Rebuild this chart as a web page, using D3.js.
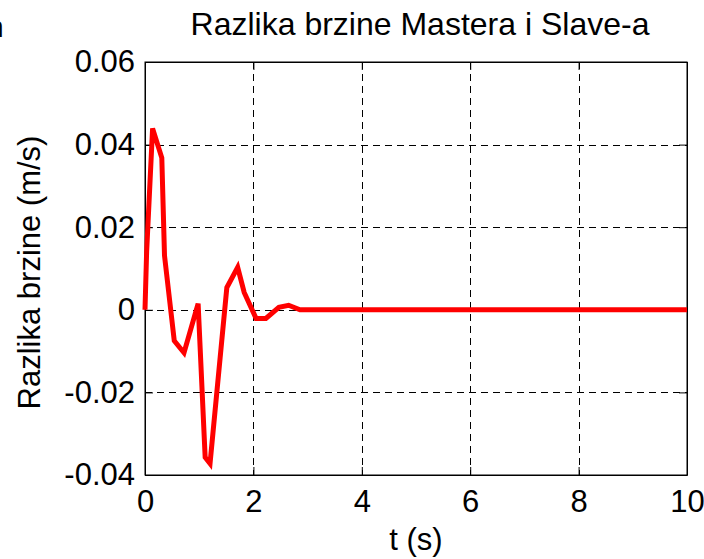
<!DOCTYPE html>
<html lang="en">
<head>
  <meta charset="UTF-8">
  <title>Razlika brzine Mastera i Slave-a</title>
  <style>
    body { margin: 0; background: #fff; }
    svg text { font-family: "Liberation Sans", Arial, Helvetica, sans-serif; fill: #000; }
  </style>
</head>
<body>
  <script src="https://d3js.org/d3.v7.min.js"></script>
  <script>
    const width = 704;
    const height = 559;
    const margin = { top: 62, right: 17, bottom: 84, left: 145 };
    const fontSize = 31;

    // time (s) and speed difference (m/s)
    const times = [0, 0.03, 0.14, 0.31, 0.36, 0.54, 0.72, 0.98, 1.11, 1.2, 1.51, 1.71, 1.83, 2.05, 2.23, 2.47, 2.65, 2.86, 10];
    const speedDiff = [0, 0.014, 0.0439, 0.0368, 0.0131, -0.0075, -0.0104, 0.0015, -0.0357, -0.0372, 0.0054, 0.0103, 0.0042, -0.0021, -0.0021, 0.0006, 0.0011, 0, 0];
    const xTicks = [0, 2, 4, 6, 8, 10];
    const yTicks = [-0.04, -0.02, 0, 0.02, 0.04, 0.06];
    const yTickLabels = ['-0.04', '-0.02', '0', '0.02', '0.04', '0.06'];

    const data = times.map((t, i) => ({ t: t, v: speedDiff[i] }));

    const innerW = width - margin.left - margin.right;
    const innerH = height - margin.top - margin.bottom;

    const x = d3.scaleLinear().domain([0, 10]).range([0, innerW]);
    const y = d3.scaleLinear().domain([-0.04, 0.06]).range([innerH, 0]);

    const svg = d3.select('body')
                  .append('svg')
                  .attr('width', width)
                  .attr('height', height);

    // clipped character at the left edge
    svg.append('text')
       .attr('x', -13)
       .attr('y', 37)
       .attr('font-size', 30)
       .text('n');

    const g = svg.append('g')
                 .attr('transform', 'translate(' + margin.left + ',' + margin.top + ')');

    // grid
    g.append('g')
     .selectAll('line')
     .data(xTicks.slice(1, -1))
     .enter()
     .append('line')
     .attr('x1', d => Math.round(x(d)) + 0.5)
     .attr('x2', d => Math.round(x(d)) + 0.5)
     .attr('y1', 0)
     .attr('y2', innerH)
     .attr('stroke', '#000')
     .attr('stroke-dasharray', '7,5');
    g.append('g')
     .selectAll('line')
     .data(yTicks.slice(1, -1))
     .enter()
     .append('line')
     .attr('x1', 0)
     .attr('x2', innerW)
     .attr('y1', d => Math.round(y(d)) + 0.5)
     .attr('y2', d => Math.round(y(d)) + 0.5)
     .attr('stroke', '#000')
     .attr('stroke-dasharray', '7,5');

    // axes
    const fmtY = d => yTickLabels[yTicks.indexOf(d)];
    g.append('g')
     .attr('transform', 'translate(0,' + innerH + ')')
     .call(d3.axisBottom(x).tickValues(xTicks).tickSizeInner(-8).tickSizeOuter(0).tickPadding(15));
    g.append('g')
     .call(d3.axisLeft(y).tickValues(yTicks).tickFormat(fmtY).tickSizeInner(-8).tickSizeOuter(0).tickPadding(10));
    g.append('g')
     .call(d3.axisTop(x).tickValues(xTicks).tickFormat('').tickSizeInner(-8).tickSizeOuter(0));
    g.append('g')
     .attr('transform', 'translate(' + innerW + ',0)')
     .call(d3.axisRight(y).tickValues(yTicks).tickFormat('').tickSizeInner(-8).tickSizeOuter(0));

    g.selectAll('.domain, .tick line').attr('stroke', '#000').attr('stroke-width', 1);
    g.selectAll('.tick text').attr('font-size', fontSize).attr('font-family', null).attr('fill', '#000');

    // box
    g.append('rect')
     .attr('x', 0)
     .attr('y', 0)
     .attr('width', innerW)
     .attr('height', innerH)
     .attr('fill', 'none')
     .attr('stroke', '#000');

    // series
    const line = d3.line()
                   .x(d => x(d.t))
                   .y(d => y(d.v));
    g.append('path')
     .datum(data)
     .attr('d', line)
     .attr('fill', 'none')
     .attr('stroke', '#ff0000')
     .attr('stroke-width', 5)
     .attr('stroke-linejoin', 'miter');

    // labels
    svg.append('text')
       .attr('x', margin.left + innerW / 2 + 4)
       .attr('y', 35)
       .attr('text-anchor', 'middle')
       .attr('font-size', 32)
       .text('Razlika brzine Mastera i Slave-a');
    svg.append('text')
       .attr('x', margin.left + innerW / 2)
       .attr('y', 550)
       .attr('text-anchor', 'middle')
       .attr('font-size', fontSize)
       .text('t (s)');
    svg.append('text')
       .attr('transform', 'translate(40,' + (margin.top + innerH / 2 + 4) + ') rotate(-90)')
       .attr('text-anchor', 'middle')
       .attr('font-size', fontSize)
       .text('Razlika brzine (m/s)');
  </script>
</body>
</html>
